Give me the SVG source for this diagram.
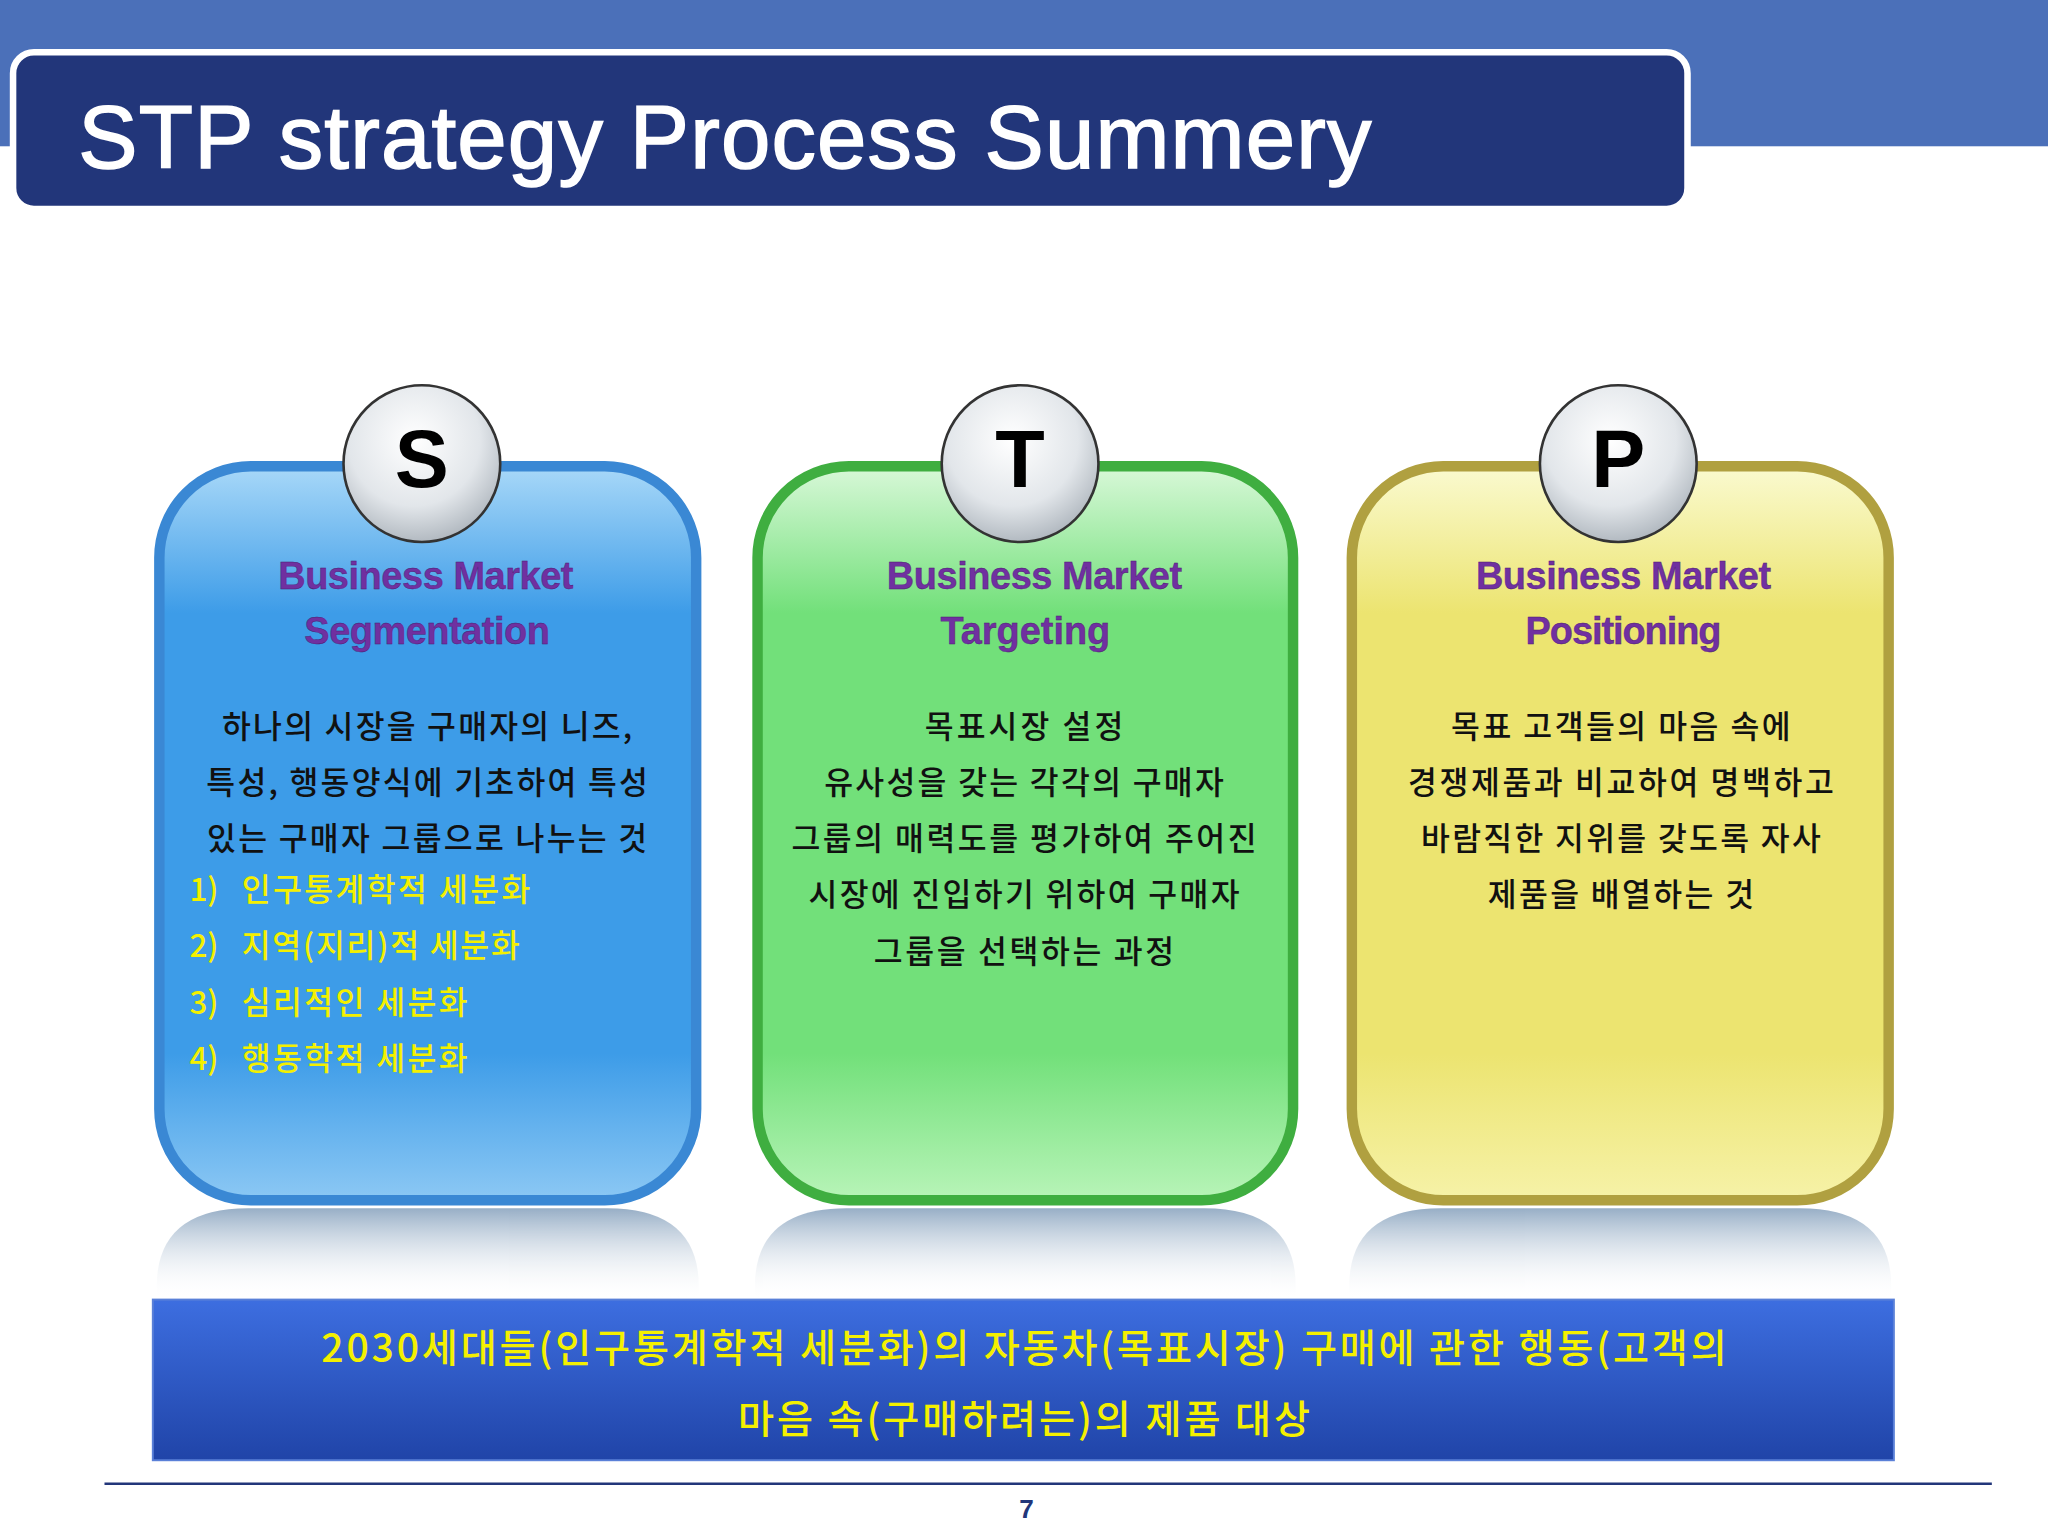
<svg xmlns="http://www.w3.org/2000/svg" width="2048" height="1536" viewBox="0 0 2048 1536">
<defs>
<style>
.h{font-family:"Liberation Sans",Arial,sans-serif;font-size:29px;fill:#7030a0;text-anchor:middle;font-weight:bold;stroke:#4a1a70;stroke-width:0.3}
.b{font-family:"Noto Sans CJK KR","Liberation Sans",sans-serif;font-size:24px;fill:#111;text-anchor:middle;font-weight:500}
.y{font-family:"Noto Sans CJK KR","Liberation Sans",sans-serif;font-size:24px;fill:#f4f000;font-weight:500}
.L{font-family:"Liberation Sans",Arial,sans-serif;font-size:62px;fill:#000;text-anchor:middle;font-weight:bold}
.f{font-family:"Noto Sans CJK KR","Liberation Sans",sans-serif;font-size:30px;fill:#f4f000;text-anchor:middle;font-weight:500}
</style>
<linearGradient id="gB" x1="0" y1="0" x2="0" y2="1"><stop offset="0" stop-color="#a8d8f8"/><stop offset="0.2" stop-color="#3d9ce8"/><stop offset="0.8" stop-color="#3d9ce8"/><stop offset="1" stop-color="#8cc8f4"/></linearGradient>
<linearGradient id="gG" x1="0" y1="0" x2="0" y2="1"><stop offset="0" stop-color="#d8f8d8"/><stop offset="0.2" stop-color="#72e07a"/><stop offset="0.8" stop-color="#72e07a"/><stop offset="1" stop-color="#b8f4b8"/></linearGradient>
<linearGradient id="gY" x1="0" y1="0" x2="0" y2="1"><stop offset="0" stop-color="#fafad0"/><stop offset="0.2" stop-color="#ece470"/><stop offset="0.8" stop-color="#ece470"/><stop offset="1" stop-color="#f6f2a8"/></linearGradient>
<radialGradient id="gC" cx="0.45" cy="0.35" r="0.7"><stop offset="0" stop-color="#ffffff"/><stop offset="0.6" stop-color="#e2e6ea"/><stop offset="1" stop-color="#a8b0b8"/></radialGradient>
<linearGradient id="gR" x1="0" y1="0" x2="0" y2="1"><stop offset="0" stop-color="#7d9ab8"/><stop offset="1" stop-color="#ffffff" stop-opacity="0"/></linearGradient>
<linearGradient id="gBar" x1="0" y1="0" x2="0" y2="1"><stop offset="0" stop-color="#3d6ee0"/><stop offset="1" stop-color="#2044a8"/></linearGradient>
</defs>
<g transform="scale(1.30612)">
<rect width="1568" height="1176" fill="#fff"/>
<g id="header">
<rect x="0" y="0" width="1568" height="112" fill="#4b70b9"/>
<rect x="10" y="40" width="1282" height="120" rx="16" fill="#22367a" stroke="#fff" stroke-width="5"/>
<text x="60" y="129" font-family="'Liberation Sans',Arial,sans-serif" font-size="68" fill="#fff" stroke="#fff" stroke-width="1.2" textLength="990">STP strategy Process Summery</text>
</g>
<g id="reflections" opacity="0.8">
<path d="M120,995 L120,985 Q120,925 190,925 L465,925 Q535,925 535,985 L535,995 Z" fill="url(#gR)"/>
<path d="M578,995 L578,985 Q578,925 648,925 L922,925 Q992,925 992,985 L992,995 Z" fill="url(#gR)"/>
<path d="M1033,995 L1033,985 Q1033,925 1103,925 L1378,925 Q1448,925 1448,985 L1448,995 Z" fill="url(#gR)"/>
</g>
<g id="S">
<rect x="122" y="357" width="411" height="562" rx="70" fill="url(#gB)" stroke="#3a88d4" stroke-width="8"/>
<circle cx="323" cy="355" r="60" fill="url(#gC)" stroke="#333" stroke-width="2"/>
<text class="L" x="323" y="373">S</text>
<text class="h" x="326" y="451" textLength="226">Business Market</text>
<text class="h" x="327" y="493" textLength="188">Segmentation</text>
<text class="b" x="327" y="565" textLength="314">하나의 시장을 구매자의 니즈,</text>
<text class="b" x="327" y="608" textLength="338">특성, 행동양식에 기초하여 특성</text>
<text class="b" x="327" y="651" textLength="337">있는 구매자 그룹으로 나누는 것</text>
<text class="y" x="145" y="690">1)</text><text class="y" x="185" y="690" textLength="221">인구통계학적 세분화</text>
<text class="y" x="145" y="733">2)</text><text class="y" x="185" y="733" textLength="213">지역(지리)적 세분화</text>
<text class="y" x="145" y="776">3)</text><text class="y" x="185" y="776" textLength="173">심리적인 세분화</text>
<text class="y" x="145" y="819">4)</text><text class="y" x="185" y="819" textLength="173">행동학적 세분화</text>
</g>
<g id="T">
<rect x="580" y="357" width="410" height="562" rx="70" fill="url(#gG)" stroke="#3fae40" stroke-width="8"/>
<circle cx="781" cy="355" r="60" fill="url(#gC)" stroke="#333" stroke-width="2"/>
<text class="L" x="781" y="373">T</text>
<text class="h" x="792" y="451" textLength="226">Business Market</text>
<text class="h" x="785" y="493" textLength="130">Targeting</text>
<text class="b" x="784" y="565" textLength="152">목표시장 설정</text>
<text class="b" x="784" y="608" textLength="306">유사성을 갖는 각각의 구매자</text>
<text class="b" x="784" y="651" textLength="356">그룹의 매력도를 평가하여 주어진</text>
<text class="b" x="784" y="694" textLength="330">시장에 진입하기 위하여 구매자</text>
<text class="b" x="784" y="737" textLength="230">그룹을 선택하는 과정</text>
</g>
<g id="P">
<rect x="1035" y="357" width="411" height="562" rx="70" fill="url(#gY)" stroke="#b0a040" stroke-width="8"/>
<circle cx="1239" cy="355" r="60" fill="url(#gC)" stroke="#333" stroke-width="2"/>
<text class="L" x="1239" y="373">P</text>
<text class="h" x="1243" y="451" textLength="226">Business Market</text>
<text class="h" x="1243" y="493" textLength="150">Positioning</text>
<text class="b" x="1241" y="565" textLength="260">목표 고객들의 마음 속에</text>
<text class="b" x="1241" y="608" textLength="326">경쟁제품과 비교하여 명백하고</text>
<text class="b" x="1241" y="651" textLength="306">바람직한 지위를 갖도록 자사</text>
<text class="b" x="1241" y="694" textLength="204">제품을 배열하는 것</text>
</g>
<g id="bar">
<rect x="117" y="995" width="1333" height="123" fill="url(#gBar)" stroke="#5a80d8" stroke-width="1.5"/>
<text class="f" x="784" y="1043" textLength="1076">2030세대들(인구통계학적 세분화)의 자동차(목표시장) 구매에 관한 행동(고객의</text>
<text class="f" x="784" y="1097" textLength="438">마음 속(구매하려는)의 제품 대상</text>
</g>
<g id="footer">
<line x1="80" y1="1136" x2="1525" y2="1136" stroke="#22367a" stroke-width="2"/>
<text x="786" y="1162" font-family="'Liberation Sans',Arial,sans-serif" font-size="20" font-weight="bold" fill="#22367a" text-anchor="middle">7</text>
</g>
<g id="connectors"/>
</g>
</svg>
